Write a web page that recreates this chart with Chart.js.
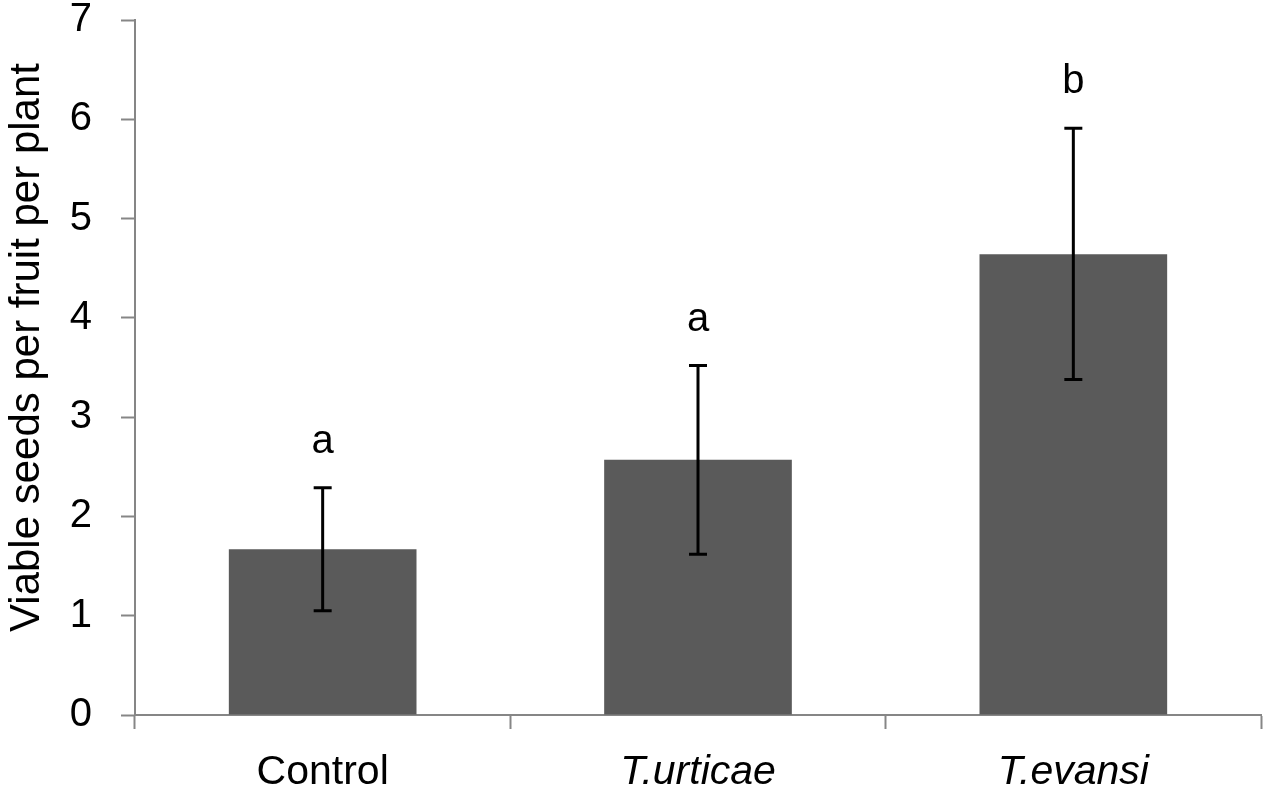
<!DOCTYPE html>
<html>
<head>
<meta charset="utf-8">
<script src="https://cdn.jsdelivr.net/npm/chart.js@4"></script>
<style>
  html, body { margin: 0; padding: 0; background: #fff; }
  #wrap { width: 1267px; height: 795px; }
</style>
</head>
<body>
<div id="wrap"><canvas id="seedsChart"></canvas></div>
<script>
// Data
const treatments = ['Control', 'T.urticae', 'T.evansi'];
const meanSeeds = [1.67, 2.57, 4.64];
const errLow = [1.05, 1.62, 3.38];
const errHigh = [2.29, 3.52, 5.91];
const sigLetters = ['a', 'a', 'b'];
const yTicks = [0, 1, 2, 3, 4, 5, 6, 7];
const yTitle = 'Viable seeds per fruit per plant';

const axisGrey = '#868686';
const font = '"Liberation Sans", Arial, sans-serif';

// Error bars + significance letters + y title (sits a bit above centre in the original)
const errorBars = {
    id: 'errorBars',
    afterDatasetsDraw(chart) {
        const { ctx, scales: { x, y } } = chart;
        ctx.save();
        ctx.strokeStyle = '#000';
        ctx.lineWidth = 3;
        treatments.forEach((t, i) => {
            const cx = x.getPixelForValue(i);
            const top = y.getPixelForValue(errHigh[i]);
            const bot = y.getPixelForValue(errLow[i]);
            ctx.beginPath();
            ctx.moveTo(cx, top); ctx.lineTo(cx, bot);
            ctx.moveTo(cx - 9, top); ctx.lineTo(cx + 9, top);
            ctx.moveTo(cx - 9, bot); ctx.lineTo(cx + 9, bot);
            ctx.stroke();

            ctx.fillStyle = '#000';
            ctx.font = '40px ' + font;
            ctx.textAlign = 'center';
            ctx.textBaseline = 'middle';
            ctx.fillText(sigLetters[i], cx, top - 46);
        });

        ctx.translate(27, (chart.chartArea.top + chart.chartArea.bottom) / 2 - 20);
        ctx.rotate(-Math.PI / 2);
        ctx.font = '42px ' + font;
        ctx.textAlign = 'center';
        ctx.textBaseline = 'middle';
        ctx.fillText(yTitle, 0, 0);
        ctx.restore();
    }
};

const ctx = document.getElementById('seedsChart').getContext('2d');
const seedsChart = new Chart(ctx, {
    type: 'bar',
    data: {
        labels: treatments,
        datasets: [{
            data: meanSeeds,
            backgroundColor: '#5a5a5a',
            borderWidth: 0,
            categoryPercentage: 1.0,
            barPercentage: 0.5
        }]
    },
    options: {
        responsive: true,
        maintainAspectRatio: false,
        animation: false,
        layout: { padding: { top: 20, right: 6, left: 0, bottom: 0 } },
        plugins: {
            legend: { display: false },
            tooltip: { enabled: false }
        },
        scales: {
            x: {
                offset: true,
                grid: {
                    offset: true,
                    drawOnChartArea: false,
                    drawTicks: true,
                    tickLength: 14,
                    tickWidth: 2,
                    color: axisGrey
                },
                border: { display: true, color: axisGrey, width: 2 },
                ticks: {
                    color: '#000',
                    padding: 19,
                    font: c => ({
                        family: font,
                        size: 41,
                        style: c.index > 0 ? 'italic' : 'normal'
                    })
                },
                afterFit: s => { s.height = 80; s.paddingLeft = 0; s.paddingRight = 0; }
            },
            y: {
                min: 0,
                max: 7,
                afterBuildTicks: s => { s.ticks = yTicks.map(v => ({ value: v })); },
                grid: {
                    drawOnChartArea: false,
                    drawTicks: true,
                    tickLength: 14,
                    tickWidth: 2,
                    color: axisGrey
                },
                border: { display: true, color: axisGrey, width: 2 },
                ticks: {
                    color: '#000',
                    padding: 29,
                    font: { family: font, size: 40 }
                },
                afterFit: s => { s.width = 135; s.paddingTop = 0; s.paddingBottom = 0; }
            }
        }
    },
    plugins: [errorBars]
});
</script>
</body>
</html>
